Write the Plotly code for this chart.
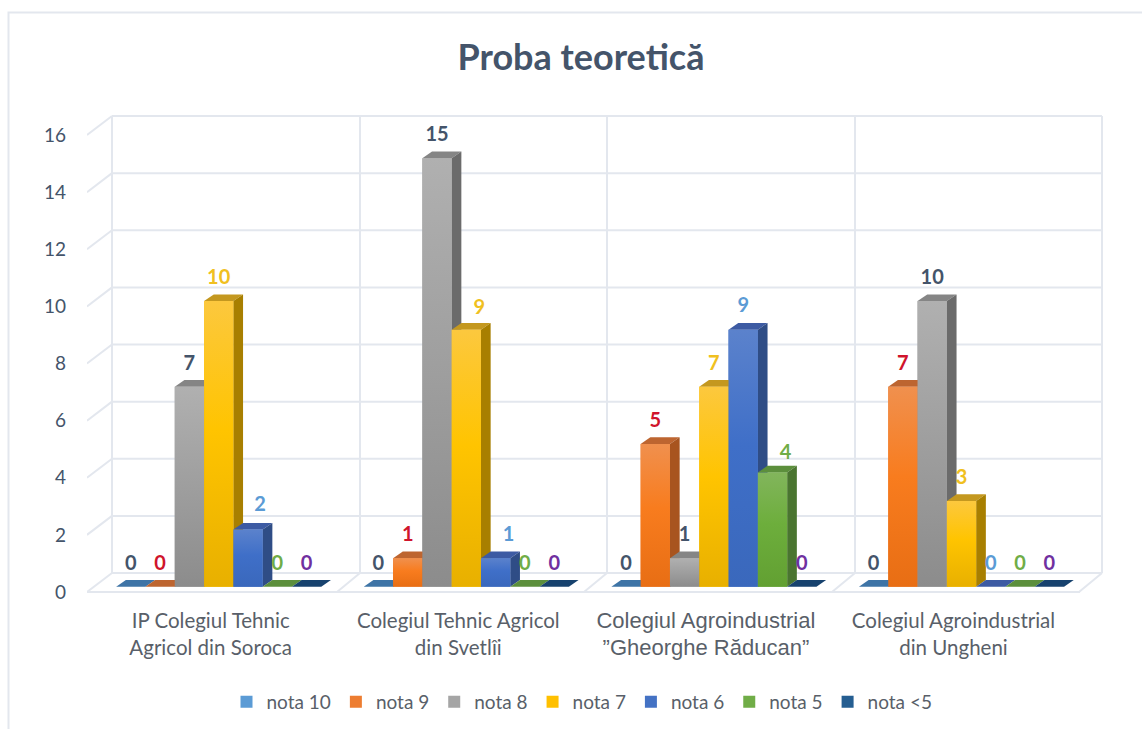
import plotly.graph_objects as go

TITLE = "Proba teoretică"
CATEGORIES = [
    ["IP Colegiul Tehnic", "Agricol din Soroca"],
    ["Colegiul Tehnic Agricol", "din Svetlîi"],
    ["Colegiul Agroindustrial", "”Gheorghe Răducan”"],
    ["Colegiul Agroindustrial", "din Ungheni"],
]
SERIES = ["nota 10", "nota 9", "nota 8", "nota 7", "nota 6", "nota 5", "nota <5"]
NOTA_10 = [0, 0, 0, 0]
NOTA_9 = [0, 1, 5, 7]
NOTA_8 = [7, 15, 1, 10]
NOTA_7 = [10, 9, 7, 3]
NOTA_6 = [2, 1, 9, 0]
NOTA_5 = [0, 0, 4, 0]
NOTA_LT5 = [0, 0, 0, 0]
VALUES = [NOTA_10, NOTA_9, NOTA_8, NOTA_7, NOTA_6, NOTA_5, NOTA_LT5]
Y_TICKS = [0, 2, 4, 6, 8, 10, 12, 14, 16]

# --- styles ---
LEGEND_COL = ["#5b9bd5", "#ed7d31", "#a5a5a5", "#ffc000", "#4472c4", "#70ad47", "#255e91"]
GRAD = [
    ["#3e74a6", "#3e74a6", "#3e74a6"],
    ["#e86e14", "#f87c1e", "#f0904e"],
    ["#8c8c8c", "#a0a0a0", "#b0b0b0"],
    ["#e8b000", "#ffc400", "#fcc83e"],
    ["#3a68bc", "#3f6fc8", "#5b82cc"],
    ["#62a032", "#6dae3c", "#82b55c"],
    ["#17426e", "#17426e", "#17426e"],
]
SIDE = ["#2f5a82", "#a8541f", "#6b6b6b", "#a87f00", "#2f4d86", "#4a7530", "#123a60"]
TOP = ["#3e74a6", "#bd6530", "#858585", "#c4981f", "#3d5ba3", "#5c8f3c", "#17426e"]
LABEL_COL = ["#44546a", "#d0142c", "#44546a", "#f0c020", "#5b9bd5", "#70ad47", "#7030a0"]
GRID = "#e3e7ee"
TEXT = "#44546a"
AXTEXT = "#595f69"
FONT = "Lato"

# pixel geometry of the page
W, H = 1142, 729
PL, PR, PT, PB = 87, 1110, 100, 600   # plot area
X0_PX, GROUP_PX = 218.7, 247.6         # centre of first group, group spacing
UNIT_PX = 28.56                        # px per value unit
FRONT_ZERO, BAR_ZERO = 592, 586.7      # pixel of value 0: wall front, bar front
BAR_PX = 29.3
DEPTH_X, DEPTH_Y = 9.7, 6.7            # bar depth
WALL_X, WALL_Y = 25, 19                # wall depth
TICK_SHIFT_PX = 8                      # category labels sit left of the bars

def xd(px):
    return (px - X0_PX) / GROUP_PX

bar_w = BAR_PX / GROUP_PX
dx, dy = DEPTH_X / GROUP_PX, DEPTH_Y / UNIT_PX
wall_dy = WALL_Y / UNIT_PX

fig = go.Figure()

# walls + floor (front-plane value coordinates)
wx, wy = [], []
def seg(x1, y1, x2, y2):
    wx.extend([x1, x2, None])
    wy.extend([y1, y2, None])

back_l, back_r = xd(112), xd(1102)
front_l, front_r = xd(87), xd(1080)
for t in Y_TICKS:
    seg(back_l, t + wall_dy, back_r, t + wall_dy)
    seg(front_l, t, back_l, t + wall_dy)
for px in (112, 360, 607, 855, 1102):
    seg(xd(px), wall_dy, xd(px), Y_TICKS[-1] + wall_dy)
for px in (360, 607, 855, 1102):
    seg(xd(px - 23), 0, xd(px), wall_dy)
seg(front_l, 0, front_r, 0)
fig.add_trace(go.Scatter(x=wx, y=wy, mode="lines", line=dict(color=GRID, width=2),
                         hoverinfo="skip", showlegend=False))

# native bars
groups = list(range(len(CATEGORIES)))
for s, name in enumerate(SERIES):
    fig.add_trace(go.Bar(x=groups, y=VALUES[s], name=name, yaxis="y2",
                         marker=dict(color=LEGEND_COL[s], line_width=0),
                         hovertemplate=name + ": %{y}<extra></extra>"))

# 3-D faces, left to right so that each bar covers the side of the previous one
def poly(xs, ys, **kw):
    fig.add_trace(go.Scatter(x=xs + xs[:1], y=ys + ys[:1], mode="lines", line=dict(width=0),
                             fill="toself", yaxis="y2", hoverinfo="skip", showlegend=False, **kw))

for g in groups:
    for s in range(len(SERIES)):
        v = VALUES[s][g]
        l = g + (s - 3) * bar_w - bar_w / 2
        r = l + bar_w
        poly([l, r, r + dx, l + dx], [v, v, v + dy, v + dy], fillcolor=TOP[s])
        if v > 0:
            poly([r, r + dx, r + dx, r], [0, dy, v + dy, v], fillcolor=SIDE[s])
            poly([l, r, r, l], [0, 0, v, v],
                 fillgradient=dict(type="vertical", start=0, stop=v,
                                   colorscale=[[0, GRAD[s][0]], [0.55, GRAD[s][1]], [1, GRAD[s][2]]]))

# data labels
LABEL_GAP = 22.2
SHIFT = {(0, 4): (12, 1), (1, 3): (13, -2), (1, 4): (13, 0), (2, 5): (13, -4)}
lx, ly, lt, lc = [], [], [], []
for g in groups:
    for s in range(len(SERIES)):
        v = VALUES[s][g]
        sx, sy = SHIFT.get((g, s), (0, 0))
        lx.append(g + (s - 3) * bar_w + sx / GROUP_PX)
        ly.append(v + (LABEL_GAP + sy) / UNIT_PX)
        lt.append(str(v))
        lc.append(LABEL_COL[s])
fig.add_trace(go.Scatter(x=lx, y=ly, mode="text", text=lt, yaxis="y2", hoverinfo="skip",
                         showlegend=False, textposition="middle center",
                         textfont=dict(family=FONT, size=20, color=lc, weight="bold")))

def label(i):
    fam = "Liberation Sans" if i == 2 else FONT
    size = 22 if i == 2 else 20.5
    return "<br>".join(f'<span style="font-family:{fam};font-size:{size}px">{p}</span>' for p in CATEGORIES[i])

plot_h = PB - PT
fig.update_layout(
    width=W, height=H,
    margin=dict(l=PL, r=W - PR, t=PT, b=H - PB, autoexpand=False),
    paper_bgcolor="white", plot_bgcolor="white",
    barmode="group", bargap=1 - 7 * bar_w, bargroupgap=0,
    title=dict(text=TITLE, x=581 / W, xanchor="center", y=1 - 57 / H, yanchor="middle",
               font=dict(family=FONT, size=36, color=TEXT, weight="bold")),
    xaxis=dict(range=[xd(PL), xd(PR)], tickmode="array",
               tickvals=[g - TICK_SHIFT_PX / GROUP_PX for g in groups],
               ticktext=[label(i) for i in groups], tickfont=dict(family=FONT, size=21.5, color=AXTEXT),
               showgrid=False, zeroline=False, showline=False, ticks="", ticklabelstandoff=5),
    yaxis=dict(range=[(FRONT_ZERO - PB) / UNIT_PX, (FRONT_ZERO - PT) / UNIT_PX],
               tickmode="array", tickvals=Y_TICKS, showgrid=False, zeroline=False, showline=False,
               tickfont=dict(family=FONT, size=19, color=TEXT), ticks="", ticklabelstandoff=20),
    yaxis2=dict(range=[(BAR_ZERO - PB) / UNIT_PX, (BAR_ZERO - PT) / UNIT_PX], overlaying="y",
                visible=False),
    legend=dict(orientation="h", x=582 / W, xref="container", xanchor="center",
                y=1 - 702 / H, yref="container", yanchor="middle",
                font=dict(family=FONT, size=19, color=AXTEXT), traceorder="normal"),
    shapes=[dict(type="path", xref="paper", yref="paper",
                 path=f"M {(8.5 - PL) / (PR - PL)} {-(H - PB) / plot_h - 0.01} L {(8.5 - PL) / (PR - PL)} {(PB - 12.5) / plot_h} L {(W + 2 - PL) / (PR - PL)} {(PB - 12.5) / plot_h}",
                 line=dict(color=GRID, width=2), layer="below")],
)
fig.write_html("out.html", config={"displayModeBar": False},
               post_script="document.body.style.margin='0';document.body.style.overflow='hidden';")
